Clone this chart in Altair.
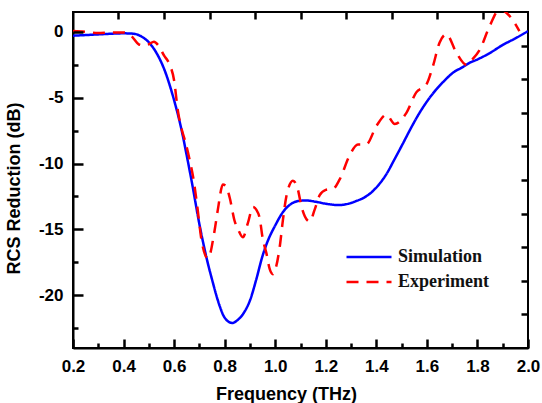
import altair as alt
import pandas as pd

# Simulation curve
sim_freq = [0.20, 0.25, 0.30, 0.35, 0.40, 0.44, 0.47, 0.50, 0.53, 0.56, 0.60, 0.63, 0.65, 0.67,
            0.70, 0.73, 0.75, 0.78, 0.80, 0.83, 0.85, 0.88, 0.90, 0.925, 0.95, 0.97, 1.00, 1.03,
            1.06, 1.09, 1.12, 1.16, 1.20, 1.25, 1.29, 1.32, 1.35, 1.38, 1.41, 1.44, 1.47, 1.506, 1.54,
            1.571, 1.60, 1.637, 1.67, 1.703, 1.74, 1.77, 1.80, 1.85, 1.90, 1.95, 2.00]
sim_db = [-0.30, -0.25, -0.20, -0.15, -0.12, -0.15, -0.35, -0.80, -1.60, -2.80, -5.20, -7.50, -9.40, -11.40,
          -14.60, -17.30, -18.80, -20.80, -21.70, -22.10, -21.90, -21.20, -20.40, -18.80, -17.00, -15.90, -14.70, -13.70,
          -13.10, -12.85, -12.80, -12.90, -13.05, -13.15, -13.05, -12.85, -12.60, -12.20, -11.60, -10.80, -9.75, -8.45, -7.20,
          -6.15, -5.30, -4.38, -3.70, -3.11, -2.70, -2.35, -2.10, -1.60, -1.00, -0.50, 0.05]

# Experiment curve
exp_freq = [0.20, 0.25, 0.30, 0.35, 0.40, 0.43, 0.46, 0.48, 0.50, 0.52, 0.54, 0.56, 0.58, 0.60, 0.615,
            0.63, 0.645, 0.66, 0.675, 0.69, 0.71, 0.734, 0.76, 0.773, 0.793, 0.805, 0.82, 0.84, 0.853,
            0.872, 0.892, 0.912, 0.925, 0.938, 0.951, 0.965, 0.978, 0.991, 1.004, 1.018, 1.031, 1.044,
            1.07, 1.09, 1.103, 1.117, 1.136, 1.156, 1.176, 1.20, 1.23, 1.255, 1.294, 1.327, 1.36, 1.40,
            1.44, 1.473, 1.519, 1.558, 1.598, 1.624, 1.65, 1.677, 1.717, 1.756, 1.78, 1.81, 1.848,
            1.888, 1.927, 1.966]
exp_db = [0.05, 0.0, -0.10, -0.05, -0.05, -0.30, -0.95, -1.05, -0.95, -0.75, -1.10, -1.80, -2.40, -3.70, -6.00,
          -7.40, -8.40, -9.60, -11.00, -13.00, -16.00, -17.20, -15.10, -13.50, -11.60, -11.70, -12.60, -14.40, -15.00,
          -15.60, -14.50, -13.30, -13.50, -14.10, -15.75, -16.80, -18.00, -18.40, -17.80, -16.30, -14.20, -12.50,
          -11.30, -12.00, -13.20, -14.00, -14.40, -13.50, -12.40, -12.00, -11.90, -11.20, -9.40, -8.55, -8.55, -7.16,
          -6.30, -7.00, -6.15, -4.60, -4.00, -2.60, -0.83, -0.20, -1.60, -2.50, -2.10, -1.34, 0.42,
          1.70, 1.20, 0.05]

series_names = ["Simulation", "Experiment"]
series_colors = ["#0000ff", "#ff0000"]

# axis tick values
x_major = [0.2, 0.4, 0.6, 0.8, 1.0, 1.2, 1.4, 1.6, 1.8, 2.0]
x_minor = [0.3, 0.5, 0.7, 0.9, 1.1, 1.3, 1.5, 1.7, 1.9]
y_major = [-20, -15, -10, -5, 0]
y_minor = [-22.5, -17.5, -12.5, -7.5, -2.5]
top_ticks = [0.38, 0.56, 0.74, 0.92, 1.10, 1.28, 1.46, 1.64, 1.82]
right_ticks = [-1.05, -3.6, -6.15, -8.7, -11.25, -13.8, -16.35, -18.9, -21.45]

df = pd.concat([
    pd.DataFrame({"freq": sim_freq, "db": sim_db, "series": series_names[0]}),
    pd.DataFrame({"freq": exp_freq, "db": exp_db, "series": series_names[1]}),
])

FONT = "Liberation Sans"
TICK = "black"
xscale = alt.Scale(domain=[0.2, 2.0], nice=False, zero=False)
yscale = alt.Scale(domain=[-24, 1.5], nice=False, zero=False)

main = alt.Chart(df).mark_line(strokeWidth=2.5, clip=True, interpolate="monotone").encode(
    x=alt.X("freq:Q", scale=xscale, axis=alt.Axis(
        orient="bottom", title="Frequency (THz)", values=x_major, format=".1f",
        ticks=False, labelPadding=10,
        domainColor="black", domainWidth=2, grid=False,
        labelFont=FONT, labelFontSize=17, labelFontWeight="bold", labelColor="black",
        titleFont=FONT, titleFontSize=18, titleFontWeight="bold", titleColor="black",
        titleX=213, titleY=46, titleBaseline="middle", labelFlush=False, labelOverlap=False)),
    y=alt.Y("db:Q", scale=yscale, axis=alt.Axis(
        orient="left", title="RCS Reduction (dB)", values=y_major,
        labelExpr="toString(datum.value)",
        ticks=False, labelPadding=10,
        domainColor="black", domainWidth=2, grid=False,
        labelFont=FONT, labelFontSize=17, labelFontWeight="bold", labelColor="black",
        titleFont=FONT, titleFontSize=18, titleFontWeight="bold", titleColor="black",
        titleX=-59, titleY=176, titleBaseline="middle", titleAlign="center", labelOverlap=False)),
    color=alt.Color("series:N", scale=alt.Scale(domain=series_names, range=series_colors),
                    legend=alt.Legend(title=None, orient="none", legendX=272, legendY=234,
                                      symbolType="stroke", symbolSize=2025, symbolStrokeWidth=2.5,
                                      labelFont="Liberation Serif", labelFontSize=18,
                                      labelFontWeight="bold", labelColor="#111111",
                                      labelOffset=5, clipHeight=22, rowPadding=3, padding=0)),
    strokeDash=alt.StrokeDash("series:N", scale=alt.Scale(domain=series_names, range=[[1, 0], [12, 8]]),
                              legend=None),
)


def tick_layer(xorient, xvals, xlen, yorient, yvals, ylen):
    """Invisible layer carrying an extra pair of tick-only axes, shifted inward."""
    return alt.Chart(df).mark_line(opacity=0).encode(
        x=alt.X("freq:Q", scale=xscale, axis=alt.Axis(
            orient=xorient, title=None, values=xvals, labels=False, domain=False, grid=False,
            tickSize=xlen, offset=-xlen, tickWidth=2.5, tickColor=TICK, zindex=1)),
        y=alt.Y("db:Q", scale=yscale, axis=alt.Axis(
            orient=yorient, title=None, values=yvals, labels=False, domain=False, grid=False,
            tickSize=ylen, offset=-ylen, tickWidth=2.5, tickColor=TICK, zindex=1)),
    )


major_ticks = tick_layer("bottom", x_major, 9, "left", y_major, 10)
minor_ticks = tick_layer("bottom", x_minor, 5, "left", y_minor, 5)
mirror_ticks = tick_layer("top", top_ticks, 7, "right", right_ticks, 7)

chart = alt.layer(main, major_ticks, minor_ticks, mirror_ticks).resolve_axis(
    x="independent", y="independent"
).properties(
    width=455, height=336,
    autosize="none",
    padding={"left": 73, "top": 12, "right": 14, "bottom": 55},
    background="white",
).configure_view(stroke="black", strokeWidth=2)

chart.save("out.html", embed_options={"renderer": "svg", "actions": False})
